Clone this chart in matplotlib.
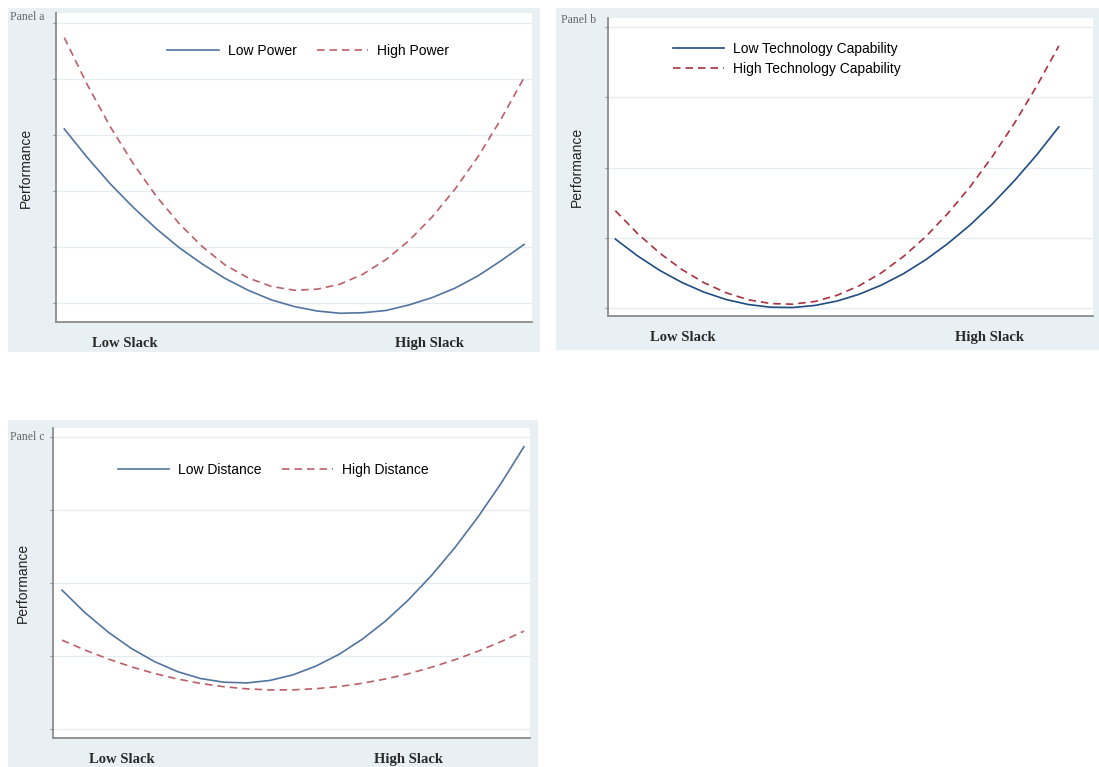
import numpy as np
import matplotlib.pyplot as plt
from matplotlib.patches import Rectangle

# slack positions (0 = lowest observed slack, 100 = highest)
slack = [0, 5, 10, 15, 20, 25, 30, 35, 40, 45, 50, 55, 60, 65, 70, 75, 80, 85, 90, 95, 100]

# Panel a: power
low_power = [4.10, 3.59, 3.12, 2.70, 2.32, 1.98, 1.69, 1.43, 1.22, 1.05, 0.93,
             0.85, 0.81, 0.82, 0.86, 0.96, 1.09, 1.26, 1.48, 1.75, 2.04]
high_power = [5.73, 4.89, 4.14, 3.48, 2.90, 2.41, 2.00, 1.67, 1.44, 1.29, 1.22,
              1.24, 1.33, 1.51, 1.77, 2.11, 2.53, 3.03, 3.61, 4.28, 5.02]

# Panel b: technology capability
low_tech = [1.985, 1.746, 1.540, 1.368, 1.230, 1.125, 1.054, 1.016, 1.012, 1.041, 1.104,
            1.201, 1.331, 1.494, 1.692, 1.923, 2.186, 2.485, 2.817, 3.182, 3.581]
high_tech = [2.388, 2.064, 1.786, 1.553, 1.364, 1.221, 1.122, 1.068, 1.059, 1.098, 1.186,
             1.322, 1.506, 1.740, 2.020, 2.352, 2.730, 3.159, 3.635, 4.160, 4.734]

# Panel c: distance
low_distance = [2.907, 2.598, 2.332, 2.109, 1.929, 1.791, 1.696, 1.646, 1.636, 1.670, 1.747,
                1.868, 2.029, 2.235, 2.483, 2.775, 3.110, 3.487, 3.906, 4.368, 4.874]
high_distance = [2.223, 2.086, 1.964, 1.857, 1.766, 1.690, 1.629, 1.584, 1.555, 1.540, 1.541,
                 1.557, 1.587, 1.631, 1.690, 1.762, 1.851, 1.953, 2.069, 2.201, 2.346]

tick_labels = ['Low Slack', 'High Slack']

W, H = 1099, 767
fig = plt.figure(figsize=(W / 100, H / 100), dpi=100)

BG = '#e8f0f3'
GRID = '#e4ecf0'
SPINE = '#8c8c8c'


def px_rect(x0, y0, x1, y1):
    # pixel box (top-left origin) -> figure fraction rect
    return [x0 / W, 1 - y1 / H, (x1 - x0) / W, (y1 - y0) / H]


def panel(bg_box, ax_box, name, name_xy, xlim, ylim, yticks, xticks):
    r = px_rect(*bg_box)
    fig.add_artist(Rectangle(r[:2], r[2], r[3], transform=fig.transFigure,
                             facecolor=BG, edgecolor='none', zorder=0))
    ax = fig.add_axes(px_rect(*ax_box))
    ax.set_facecolor('white')
    ax.set_xlim(*xlim)
    ax.set_ylim(*ylim)
    ax.set_yticks(yticks)
    ax.set_yticklabels([])
    ax.tick_params(axis='y', length=2, color=SPINE, width=0.8)
    ax.set_xticks(xticks)
    ax.set_xticklabels(tick_labels, family='Liberation Serif', weight='bold',
                       fontsize=10.5, color='#2a2a2a')
    ax.tick_params(axis='x', length=0, pad=10.5)
    ax.grid(axis='y', color=GRID, lw=1.0)
    ax.set_axisbelow(True)
    for s in ['top', 'right']:
        ax.spines[s].set_visible(False)
    for s in ['left', 'bottom']:
        ax.spines[s].set_color(SPINE)
        ax.spines[s].set_linewidth(1.3)
    ax.set_ylabel('Performance', family='Liberation Sans', fontsize=10, color='#222')
    ax.yaxis.set_label_coords(-0.049, 0.5)
    fig.text(name_xy[0] / W, 1 - name_xy[1] / H, name, family='Liberation Serif',
             fontsize=8.5, color='#666666', va='center', ha='left')
    return ax


leg_kw = dict(frameon=False, prop={'family': 'Liberation Sans', 'size': 10},
              handlelength=3.7, handletextpad=0.65)

# Panel a
ax_a = panel((8, 8, 540, 352), (56, 13, 532, 322), 'Panel a', (10, 17),
             (-1.8, 101.7), (0.654, 6.17), [1, 2, 3, 4, 5, 6], [13.2, 79.5])
ax_a.plot(slack, low_power, color='#5274a0', lw=1.2, label='Low Power')
ax_a.plot(slack, high_power, color='#bb6068', lw=1.2, dashes=(4.5, 3), label='High Power')
ax_a.legend(loc='center', bbox_to_anchor=(0.53, 0.877), ncol=2, columnspacing=1.45, **leg_kw)

# Panel b
ax_b = panel((556, 8, 1099, 350), (607.7, 18, 1093, 316), 'Panel b', (561, 20),
             (-1.73, 107.7), (0.891, 5.13), [1, 2, 3, 4, 5], [15.3, 84.3])
ax_b.plot(slack, low_tech, color='#1f4c82', lw=1.2, label='Low Technology Capability')
ax_b.plot(slack, high_tech, color='#a8323f', lw=1.2, dashes=(4.5, 3),
          label='High Technology Capability')
ax_b.legend(loc='center left', bbox_to_anchor=(0.108, 0.862), labelspacing=0.45, **leg_kw)

# Panel c
ax_c = panel((8, 420, 538, 767), (53, 428, 530, 738.3), 'Panel c', (10, 437),
             (-1.95, 101.3), (0.877, 5.13), [1, 2, 3, 4, 5], [13.0, 74.9])
ax_c.plot(slack, low_distance, color='#5274a0', lw=1.2, label='Low Distance')
ax_c.plot(slack, high_distance, color='#bb6068', lw=1.2, dashes=(4.5, 3), label='High Distance')
ax_c.legend(loc='center', bbox_to_anchor=(0.462, 0.865), ncol=2, columnspacing=1.45, **leg_kw)

fig.savefig('out.png', dpi=100)
